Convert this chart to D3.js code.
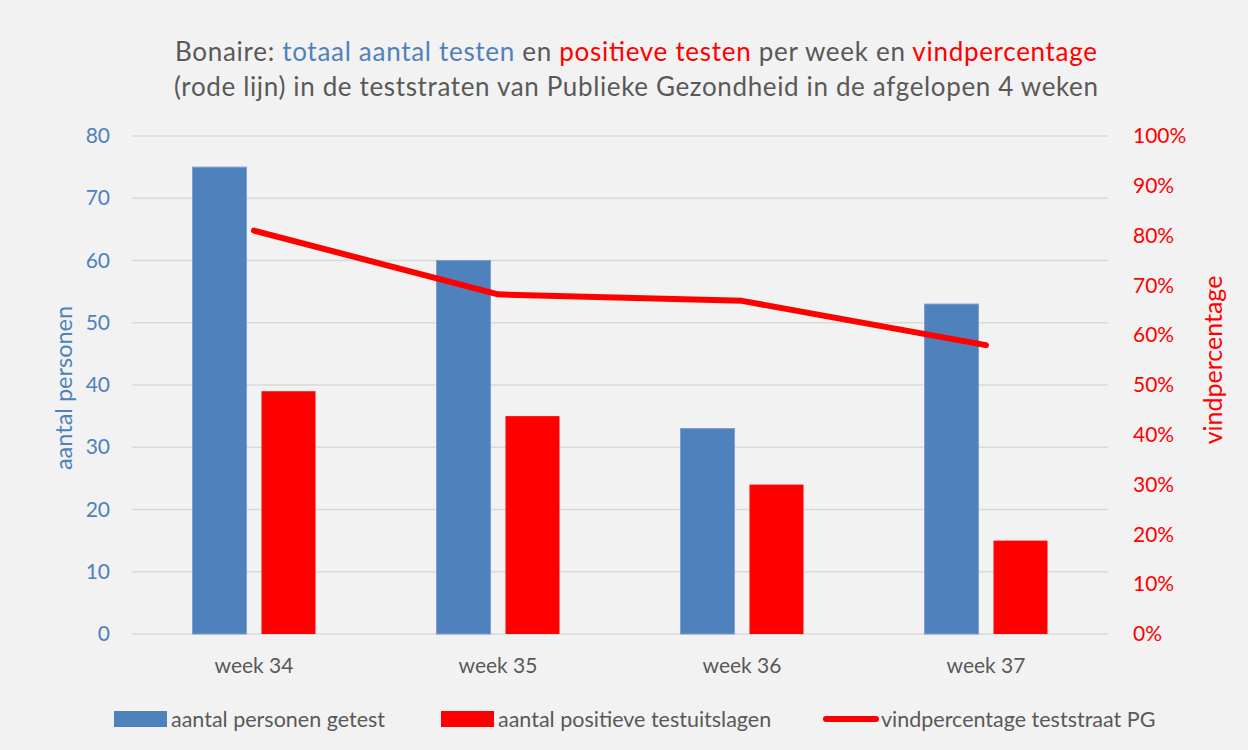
<!DOCTYPE html>
<html>
<head>
<meta charset="utf-8">
<script src="https://cdn.jsdelivr.net/npm/d3@7"></script>
<style>
  body { margin: 0; background: #f2f2f2; }
  text { font-family: Lato, "Open Sans", sans-serif; }
</style>
</head>
<body>
<div id="chart"></div>
<script>
// data
var weeks = ["week 34", "week 35", "week 36", "week 37"];
var tested = [75, 60, 33, 53];
var positive = [39, 35, 24, 15];
var findPct = [0.81, 0.682, 0.669, 0.58];
var leftTicks = [0, 10, 20, 30, 40, 50, 60, 70, 80];
var rightTicks = [0, 0.1, 0.2, 0.3, 0.4, 0.5, 0.6, 0.7, 0.8, 0.9, 1];

var svgWidth = 1248;
var svgHeight = 750;

var margin = { top: 136, right: 140, bottom: 116, left: 132 };
var width = svgWidth - margin.left - margin.right;
var height = svgHeight - margin.top - margin.bottom;

var blue = "#4f81bd";
var red = "#ff0000";
var grey = "#595959";

var svg = d3.select("#chart")
  .append("svg")
  .attr("width", svgWidth)
  .attr("height", svgHeight);

svg.append("rect")
  .attr("width", svgWidth)
  .attr("height", svgHeight)
  .attr("fill", "#f2f2f2");

var chartGroup = svg.append("g")
  .attr("transform", `translate(${margin.left}, ${margin.top})`);

// scales
var xScale = d3.scaleBand()
  .domain(weeks)
  .range([0, width]);

var yLeft = d3.scaleLinear()
  .domain([0, 80])
  .range([height, 0]);

var yRight = d3.scaleLinear()
  .domain([0, 1])
  .range([height, 0]);

// gridlines
chartGroup.append("g")
  .selectAll("line")
  .data(leftTicks)
  .enter()
  .append("line")
  .attr("x1", 0)
  .attr("x2", width)
  .attr("y1", d => yLeft(d))
  .attr("y2", d => yLeft(d))
  .attr("stroke", "#d9d9d9")
  .attr("stroke-width", 1.5);

// left axis
var leftAxis = d3.axisLeft(yLeft).tickValues(leftTicks).tickSize(0).tickPadding(22);
var leftG = chartGroup.append("g").call(leftAxis);
leftG.select(".domain").remove();
leftG.selectAll("text")
  .attr("fill", blue)
  .style("font-size", "21px");

// right axis
var rightAxis = d3.axisRight(yRight).tickValues(rightTicks).tickSize(0)
  .tickPadding(25).tickFormat(d3.format(".0%"));
var rightG = chartGroup.append("g")
  .attr("transform", `translate(${width}, 0)`)
  .call(rightAxis);
rightG.select(".domain").remove();
rightG.selectAll("text")
  .attr("fill", red)
  .style("font-size", "21px");

// x axis
var bottomAxis = d3.axisBottom(xScale).tickSize(0).tickPadding(24);
var xG = chartGroup.append("g")
  .attr("transform", `translate(0, ${height})`)
  .call(bottomAxis);
xG.select(".domain").remove();
xG.selectAll("text")
  .attr("fill", grey)
  .style("font-size", "21px");

// bars
var barW = 54;
var gap = 15;

chartGroup.append("g")
  .selectAll("rect")
  .data(tested)
  .enter()
  .append("rect")
  .attr("x", (d, i) => xScale(weeks[i]) + xScale.bandwidth() / 2 - gap / 2 - barW)
  .attr("y", d => yLeft(d))
  .attr("width", barW)
  .attr("height", d => height - yLeft(d))
  .attr("fill", blue)
  .attr("stroke", "#7e9fcc")
  .attr("stroke-width", 1);

chartGroup.append("g")
  .selectAll("rect")
  .data(positive)
  .enter()
  .append("rect")
  .attr("x", (d, i) => xScale(weeks[i]) + xScale.bandwidth() / 2 + gap / 2)
  .attr("y", d => yLeft(d))
  .attr("width", barW)
  .attr("height", d => height - yLeft(d))
  .attr("fill", red);

// find percentage line
var line = d3.line()
  .x((d, i) => xScale(weeks[i]) + xScale.bandwidth() / 2)
  .y(d => yRight(d));

chartGroup.append("path")
  .datum(findPct)
  .attr("d", line)
  .attr("fill", "none")
  .attr("stroke", red)
  .attr("stroke-width", 6)
  .attr("stroke-linecap", "round")
  .attr("stroke-linejoin", "round");

// axis titles
svg.append("text")
  .attr("transform", `translate(72, 388) rotate(-90)`)
  .attr("text-anchor", "middle")
  .attr("fill", blue)
  .style("font-size", "23.5px")
  .text("aantal personen");

svg.append("text")
  .attr("transform", `translate(1222, 360) rotate(-90)`)
  .attr("text-anchor", "middle")
  .attr("fill", red)
  .style("font-size", "25px")
  .text("vindpercentage");

// title
var title = svg.append("text")
  .attr("x", 636)
  .attr("y", 61)
  .attr("text-anchor", "middle")
  .attr("textLength", 922)
  .attr("lengthAdjust", "spacing")
  .style("font-size", "26px");
title.append("tspan").attr("fill", grey).text("Bonaire: ");
title.append("tspan").attr("fill", blue).text("totaal aantal testen");
title.append("tspan").attr("fill", grey).text(" en ");
title.append("tspan").attr("fill", red).text("positieve testen");
title.append("tspan").attr("fill", grey).text(" per week en ");
title.append("tspan").attr("fill", red).text("vindpercentage");

svg.append("text")
  .attr("x", 636)
  .attr("y", 96)
  .attr("text-anchor", "middle")
  .attr("textLength", 924)
  .attr("lengthAdjust", "spacing")
  .attr("fill", grey)
  .style("font-size", "26px")
  .text("(rode lijn) in de teststraten van Publieke Gezondheid in de afgelopen 4 weken");

// legend
var legendItems = [
  { label: "aantal personen getest", x: 114, type: "rect", color: blue },
  { label: "aantal positieve testuitslagen", x: 441, type: "rect", color: red },
  { label: "vindpercentage teststraat PG", x: 824, type: "line", color: red }
];
var legendY = 719;

var legend = svg.append("g")
  .selectAll("g")
  .data(legendItems)
  .enter()
  .append("g")
  .attr("transform", d => `translate(${d.x}, ${legendY})`);

legend.filter(d => d.type === "rect")
  .append("rect")
  .attr("x", 0)
  .attr("y", -8)
  .attr("width", 53)
  .attr("height", 16)
  .attr("fill", d => d.color);

legend.filter(d => d.type === "line")
  .append("line")
  .attr("x1", 2)
  .attr("x2", 52)
  .attr("stroke", d => d.color)
  .attr("stroke-width", 6)
  .attr("stroke-linecap", "round");

legend.append("text")
  .attr("x", 57)
  .attr("dy", "0.35em")
  .attr("fill", grey)
  .style("font-size", "21.5px")
  .text(d => d.label);
</script>
</body>
</html>
